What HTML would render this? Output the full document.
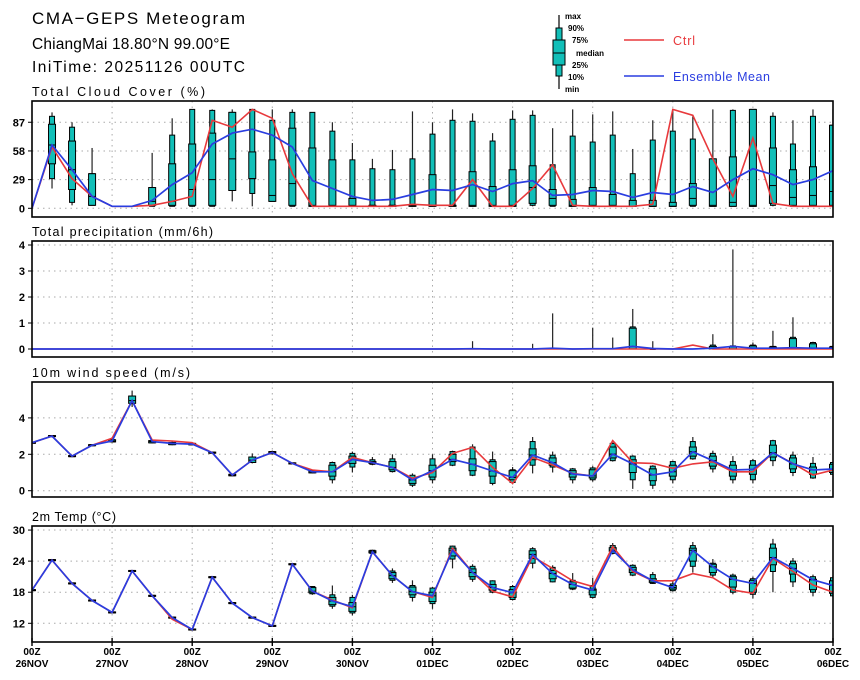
<!DOCTYPE html>
<html><head><meta charset="utf-8">
<style>
html,body{margin:0;padding:0;background:#fff;}
svg{display:block;font-family:"Liberation Sans",sans-serif;}
.ttl{font-size:17px;fill:#000;}
.ptl{font-size:12.5px;fill:#000;}
.tk{font-size:11px;font-weight:bold;fill:#000;}
.xl{font-size:10px;font-weight:bold;fill:#000;}
.lg{font-size:8px;font-weight:bold;fill:#000;}
</style></head><body>
<svg id="chart" width="860" height="680" viewBox="0 0 860 680">
<text class="ttl" x="32" y="24" textLength="213" lengthAdjust="spacing">CMA−GEPS Meteogram</text>
<text class="ttl" x="32" y="49" style="font-size:15.5px" textLength="198" lengthAdjust="spacing">ChiangMai 18.80°N 99.00°E</text>
<text class="ttl" x="32" y="72" style="font-size:15.5px" textLength="213" lengthAdjust="spacing">IniTime: 20251126 00UTC</text>
<g>
 <line x1="559" y1="15" x2="559" y2="89" stroke="#000" stroke-width="1.2"/>
 <rect x="556" y="28" width="6" height="48" fill="#12bfb8" stroke="#000" stroke-width="1"/>
 <rect x="553" y="40" width="12" height="25" fill="#12bfb8" stroke="#000" stroke-width="1"/>
 <line x1="553" y1="53" x2="565" y2="53" stroke="#000" stroke-width="1"/>
 <text class="lg" x="565" y="19">max</text>
 <text class="lg" x="568" y="31">90%</text>
 <text class="lg" x="572" y="43">75%</text>
 <text class="lg" x="576" y="56">median</text>
 <text class="lg" x="572" y="68">25%</text>
 <text class="lg" x="568" y="80">10%</text>
 <text class="lg" x="565" y="92">min</text>
 <line x1="624" y1="40" x2="664" y2="40" stroke="#e8393c" stroke-width="1.5"/>
 <text x="673" y="45" style="font-size:12.5px;fill:#e8393c" textLength="22" lengthAdjust="spacing">Ctrl</text>
 <line x1="624" y1="76" x2="664" y2="76" stroke="#2a3de0" stroke-width="1.5"/>
 <text x="673" y="81" style="font-size:12.5px;fill:#2a3de0" textLength="97" lengthAdjust="spacing">Ensemble Mean</text>
</g>
<g id="panels"></g>
</svg>
<script>
// ---- Time axis ----
const days = ["26NOV","27NOV","28NOV","29NOV","30NOV","01DEC","02DEC","03DEC","04DEC","05DEC","06DEC"];
// ---- Cloud cover (%) ----
const cloudCtrl = [0,62,30,12,2,2,3,7,12,89,82,100,91,35,2,2,2,2,2,4,3,3,29,2,2,20,44,3,2,2,2,4,100,94,50,12,71,5,2,2,2];
const cloudMean = [0,64,39,12,2,2,8,24,36,65,76,80,74,62,28,20,12,8,9,14,19,18,24,17,25,28,13,14,18,17,11,16,14,22,16,29,40,34,24,29,38];
const cloudMax = [0,97,87,61,2,2,56,91,100,100,100,100,100,100,97,87,66,50,59,98,87,100,96,76,99,99,81,100,95,98,60,89,100,93,100,100,100,97,89,100,100];
const cloudP90 = [0,93,82,35,2,2,21,74,100,99,97,100,89,97,97,78,49,40,39,50,75,89,88,68,90,94,44,73,67,74,35,69,78,70,50,99,100,93,65,93,84];
const cloudP75 = [0,85,68,35,2,2,21,45,65,76,97,57,49,81,61,49,10,3,3,3,34,3,37,22,39,43,19,9,21,14,8,8,6,25,50,52,100,61,39,42,84];
const cloudMed = [0,64,39,12,2,2,7,7,19,29,50,30,13,25,3,3,3,3,3,3,3,3,3,3,3,21,10,3,3,3,2,2,2,10,3,6,3,23,11,13,17];
const cloudP25 = [0,45,19,3,2,2,3,3,3,3,18,30,7,3,2,2,2,2,2,2,2,2,2,2,2,5,3,2,2,2,2,2,2,3,2,2,2,5,3,3,3];
const cloudP10 = [0,30,6,3,2,2,2,2,2,2,18,15,7,2,2,2,2,2,2,2,2,2,2,2,2,3,2,2,2,2,2,2,2,2,2,2,2,3,2,2,2];
const cloudMin = [0,20,3,3,2,2,2,2,2,2,7,2,7,2,2,2,2,2,2,2,2,2,2,2,2,2,2,2,2,2,2,2,2,2,2,2,2,2,2,2,2];
const cloudTicks = [0,29,58,87];
// ---- Precipitation (mm/6h) ----
const precCtrl = [0,0,0,0,0,0,0,0,0,0,0,0,0,0,0,0,0,0,0,0,0,0,0,0,0,0,0,0,0,0,0,0,0,0.15,0,0,0,0,0,0,0];
const precMean = [0,0,0,0,0,0,0,0,0,0,0,0,0,0,0,0,0,0,0,0,0,0,0.01,0,0,0,0.03,0,0.01,0.01,0.1,0.02,0,0,0.03,0.1,0.03,0.03,0.05,0.03,0.03];
const precMax = [0,0,0,0,0,0,0,0,0,0,0,0,0,0,0,0,0,0,0,0,0,0,0.3,0,0,0.2,1.37,0,0.82,0.44,1.54,0.3,0,0,0.57,3.83,0.25,0.7,1.22,0.28,0.15];
const precP90 = [0,0,0,0,0,0,0,0,0,0,0,0,0,0,0,0,0,0,0,0,0,0,0,0,0,0,0,0,0,0,0.85,0.02,0,0,0.15,0.12,0.15,0.1,0.45,0.25,0.1];
const precP75 = [0,0,0,0,0,0,0,0,0,0,0,0,0,0,0,0,0,0,0,0,0,0,0,0,0,0,0,0,0,0,0.8,0,0,0,0.1,0.08,0.12,0.08,0.4,0.2,0.08];
const precTicks = [0,1,2,3,4];
// ---- Wind speed (m/s) ----
const windCtrl = [2.64,3.0,1.9,2.5,2.88,4.95,2.78,2.73,2.64,2.09,0.86,1.68,2.1,1.5,1.14,1.04,1.83,1.54,1.28,0.68,1.0,2.05,2.38,1.28,0.4,1.83,1.41,0.95,0.81,2.75,1.54,1.5,1.23,1.47,1.59,1.04,1.04,2.09,1.5,0.86,1.14];
const windMean = [2.64,3.0,1.9,2.5,2.73,4.95,2.7,2.6,2.56,2.09,0.86,1.68,2.1,1.5,1.04,1.04,1.72,1.54,1.28,0.59,1.1,1.72,1.45,1.08,0.73,1.96,1.54,0.92,0.81,2.01,1.47,0.86,1.04,2.14,1.65,1.14,1.17,2.09,1.47,1.14,1.19];
const windMin = [2.6,2.95,1.85,2.45,2.65,4.6,2.6,2.5,2.5,2.05,0.8,1.5,2.0,1.45,0.95,0.4,1.0,1.4,1.0,0.2,0.4,1.35,0.8,0.3,0.35,0.95,1.0,0.4,0.5,1.6,0.1,0.1,0.4,1.7,1.0,0.4,0.4,1.35,0.8,0.65,0.85];
const windP10 = [2.62,2.97,1.87,2.47,2.68,4.8,2.63,2.53,2.52,2.06,0.82,1.55,2.03,1.47,0.98,0.6,1.3,1.45,1.05,0.3,0.6,1.4,0.85,0.4,0.45,1.4,1.3,0.6,0.6,1.65,0.6,0.3,0.6,1.75,1.2,0.6,0.6,1.65,1.0,0.7,0.9];
const windP25 = [2.62,2.97,1.87,2.47,2.68,4.8,2.63,2.53,2.52,2.06,0.82,1.55,2.03,1.47,0.98,0.8,1.5,1.5,1.15,0.4,0.75,1.6,1.1,0.8,0.6,1.7,1.4,0.75,0.7,1.8,1.0,0.55,0.8,1.9,1.35,0.8,0.9,1.85,1.2,0.9,1.0];
const windP75 = [2.66,3.03,1.93,2.53,2.8,5.2,2.75,2.65,2.6,2.12,0.9,1.85,2.15,1.53,1.1,1.4,1.9,1.6,1.6,0.7,1.4,2.0,1.75,1.6,1.1,2.3,1.8,1.1,1.15,2.4,1.7,1.2,1.4,2.4,1.9,1.4,1.4,2.5,1.8,1.3,1.45];
const windP90 = [2.66,3.03,1.93,2.53,2.8,5.2,2.75,2.65,2.6,2.12,0.9,1.85,2.15,1.53,1.1,1.55,2.05,1.7,1.75,0.85,1.75,2.15,2.4,1.7,1.15,2.7,1.95,1.2,1.25,2.6,1.9,1.35,1.6,2.7,2.05,1.6,1.65,2.75,1.95,1.5,1.55];
const windMax = [2.7,3.05,1.95,2.55,2.85,5.5,2.8,2.7,2.65,2.15,0.95,2.05,2.2,1.55,1.15,1.6,2.15,1.85,2.0,0.95,2.0,2.2,2.55,2.15,1.3,2.95,2.15,1.25,1.35,2.65,1.95,1.4,1.65,2.95,2.2,1.9,1.75,2.8,2.15,1.85,1.6];
const windTicks = [0,2,4];
// ---- 2m Temperature (°C) ----
const tempCtrl = [18.4,24.2,19.7,16.4,14.1,22.1,17.3,12.8,10.8,20.9,15.9,13.1,11.5,23.4,18.2,16.5,15.0,25.8,21.2,18.1,17.0,26.5,21.8,18.2,17.1,24.9,22.6,20.2,19.1,26.8,22.0,20.2,20.2,21.6,20.8,18.4,17.8,24.5,22.0,19.4,18.0];
const tempMean = [18.4,24.2,19.7,16.4,14.1,22.1,17.3,13.1,10.8,20.9,15.9,13.1,11.5,23.4,18.2,16.3,15.2,25.8,21.2,18.1,17.3,26.1,21.8,18.9,17.9,25.3,21.6,19.5,18.4,26.1,22.3,20.2,18.9,26.1,22.9,20.5,19.7,24.7,22.6,20.4,19.3];
const tempMin = [18.2,24.0,19.5,16.2,13.9,21.9,17.1,12.9,10.6,20.7,15.7,12.9,11.3,23.2,17.5,14.8,13.5,25.4,19.8,16.2,14.8,22.6,20.0,17.8,16.4,22.6,19.9,18.4,16.8,25.3,21.1,19.6,18.1,21.8,20.9,17.6,16.8,18.0,19.0,17.2,17.0];
const tempP10 = [18.3,24.1,19.6,16.3,14.0,22.0,17.2,13.0,10.7,20.8,15.8,13.0,11.4,23.3,17.7,15.3,14.0,25.5,20.3,17.0,15.8,24.4,20.5,18.0,16.6,23.6,20.0,18.6,17.0,25.5,21.3,19.7,18.3,23.0,21.3,18.0,17.6,22.0,20.0,18.0,17.3];
const tempP25 = [18.3,24.1,19.6,16.3,14.0,22.0,17.2,13.0,10.7,20.8,15.8,13.0,11.4,23.3,17.9,15.6,14.3,25.6,20.6,17.5,16.2,25.0,21.0,18.4,17.0,24.5,20.6,18.8,17.5,25.9,21.8,19.9,18.6,24.0,21.8,19.0,18.0,23.3,21.5,18.5,17.8];
const tempP75 = [18.5,24.3,19.8,16.5,14.2,22.2,17.4,13.2,10.9,21.0,16.0,13.2,11.6,23.5,18.9,17.0,16.0,26.0,21.8,19.0,18.0,26.5,22.5,19.5,18.5,26.0,22.2,20.0,18.6,26.6,22.8,20.6,19.3,26.5,23.4,21.0,20.3,26.5,23.5,20.5,20.2];
const tempP90 = [18.5,24.3,19.8,16.5,14.2,22.2,17.4,13.2,10.9,21.0,16.0,13.2,11.6,23.5,19.1,17.5,17.0,26.1,22.1,19.3,18.8,26.9,23.0,20.2,19.1,26.4,22.8,20.3,19.3,27.0,23.2,21.4,19.6,27.0,23.6,21.3,20.6,27.3,24.0,21.0,20.8];
const tempMax = [18.6,24.4,19.9,16.6,14.3,22.3,17.5,13.3,11.0,21.1,16.1,13.3,11.7,23.6,19.2,19.3,17.5,26.2,22.6,20.3,19.0,27.0,23.4,20.3,19.4,26.7,23.2,21.7,20.8,27.5,23.4,21.9,20.1,27.7,24.4,21.6,21.0,28.3,24.6,21.4,21.2];
const tempTicks = [12,18,24,30];

const NS = "http://www.w3.org/2000/svg";
const X0 = 32, X1 = 833, NSTEP = 40;
function xOf(k){ return X0 + (X1 - X0) * k / NSTEP; }
function mk(tag, attrs, parent){
  const e = document.createElementNS(NS, tag);
  for (const a in attrs) e.setAttribute(a, attrs[a]);
  parent.appendChild(e);
  return e;
}
const root = document.getElementById("panels");

function drawPanel(cfg){
  const g = mk("g", {}, root);
  
  
  const yOf = v => cfg.y0 - (v - cfg.vmin) * cfg.scale;
  const t = mk("text", {class:"ptl", x:32, y:cfg.top - 5, textLength:cfg.titleLen, lengthAdjust:"spacing"}, g);
  t.textContent = cfg.title;
  
  
  const cid = "clip-" + cfg.name;
  const cp = mk("clipPath", {id:cid}, g);
  mk("rect", {x:X0, y:cfg.top, width:X1 - X0, height:cfg.bot - cfg.top}, cp);
  for (let d = 1; d < days.length - 1; d++){
    const l = mk("line", {x1:xOf(d*4), x2:xOf(d*4), y1:cfg.top, y2:cfg.bot, stroke:"#aaa", "stroke-width":1, "stroke-dasharray":"1.5,4"}, g);
    
    
  }
  cfg.ticks.forEach(v => {
    const y = yOf(v);
    const l = mk("line", {x1:X0, x2:X1, y1:y, y2:y, stroke:"#aaa", "stroke-width":1, "stroke-dasharray":"1.5,4"}, g);
    
    
    mk("line", {x1:X0 - 4, x2:X0, y1:y, y2:y, stroke:"#000", "stroke-width":1}, g);
    const tx = mk("text", {class:"tk", x:X0 - 7, y:y + 4, "text-anchor":"end"}, g);
    tx.textContent = v;
    
    
  });
  const mg = mk("g", {"clip-path":"url(#" + cid + ")"}, g);
  for (let k = 0; k <= NSTEP; k++){
    if (cfg.max[k] - cfg.min[k] < cfg.minRange) continue;
    const x = xOf(k);
    const bg = mk("g", {}, mg);
    
    
    mk("line", {x1:x, x2:x, y1:yOf(cfg.max[k]), y2:yOf(cfg.min[k]), stroke:"#222", "stroke-width":1.2}, bg);
    const p10 = cfg.p10 ? cfg.p10[k] : cfg.min[k];
    const p25 = cfg.p25 ? cfg.p25[k] : cfg.min[k];
    const y90 = yOf(cfg.p90[k]), y10 = yOf(p10);
    if (y10 - y90 >= 0.3) mk("rect", {x:x - 2.5, y:y90, width:5, height:Math.max(y10 - y90, 1), fill:"#12bfb8", stroke:"#000", "stroke-width":1}, bg);
    const y75 = yOf(cfg.p75[k]), y25 = yOf(p25);
    if (y25 - y75 >= 0.3) mk("rect", {x:x - 3.5, y:y75, width:7, height:Math.max(y25 - y75, 1), fill:"#12bfb8", stroke:"#000", "stroke-width":1}, bg);
    if (cfg.med){ const ym = yOf(cfg.med[k]); mk("line", {x1:x - 3.5, x2:x + 3.5, y1:ym, y2:ym, stroke:"#000", "stroke-width":1}, bg); }
  }
  const ptsC = cfg.ctrl.map((v, k) => xOf(k).toFixed(1) + "," + yOf(v).toFixed(1)).join(" ");
  const pc = mk("polyline", {points:ptsC, fill:"none", stroke:"#e8393c", "stroke-width":1.6}, mg);
  
  
  const ptsM = cfg.mean.map((v, k) => xOf(k).toFixed(1) + "," + yOf(v).toFixed(1)).join(" ");
  const pm = mk("polyline", {points:ptsM, fill:"none", stroke:"#2a3de0", "stroke-width":1.7}, mg);
  
  
  const fr = mk("rect", {x:X0, y:cfg.top, width:X1 - X0, height:cfg.bot - cfg.top, fill:"none", stroke:"#000", "stroke-width":1.6}, g);
  
  
  return g;
}

drawPanel({name:"cloud-cover", title:"Total Cloud Cover (%)", titleLen:173, top:101, bot:217, y0:208.3, vmin:0, scale:0.989, ticks:cloudTicks,
  ctrl:cloudCtrl, mean:cloudMean, min:cloudMin, p10:cloudP10, p25:cloudP25, med:cloudMed, p75:cloudP75, p90:cloudP90, max:cloudMax, minRange:1});
drawPanel({name:"precipitation", title:"Total precipitation (mm/6h)", titleLen:181, top:241, bot:357, y0:349, vmin:0, scale:26, ticks:precTicks,
  ctrl:precCtrl, mean:precMean, min:precMean.map(()=>0), p10:null, p25:null, med:null, p75:precP75, p90:precP90, max:precMax, minRange:0.05});
drawPanel({name:"wind-speed", title:"10m wind speed (m/s)", titleLen:158, top:382, bot:497, y0:490.7, vmin:0, scale:18.2, ticks:windTicks,
  ctrl:windCtrl, mean:windMean, min:windMin, p10:windP10, p25:windP25, med:windMean, p75:windP75, p90:windP90, max:windMax, minRange:0});
drawPanel({name:"temperature", title:"2m Temp (°C)", titleLen:84, top:526, bot:642, y0:623.3, vmin:12, scale:5.18, ticks:tempTicks,
  ctrl:tempCtrl, mean:tempMean, min:tempMin, p10:tempP10, p25:tempP25, med:tempMean, p75:tempP75, p90:tempP90, max:tempMax, minRange:0});

const xg = mk("g", {}, root);


days.forEach((d, i) => {
  const x = xOf(i*4);
  mk("line", {x1:x, x2:x, y1:638, y2:646, stroke:"#000", "stroke-width":1.4}, xg);
  const t1 = mk("text", {class:"xl", x:x, y:655, "text-anchor":"middle"}, xg);
  t1.textContent = "00Z";
  
  
  const t2 = mk("text", {class:"xl", x:x, y:667, "text-anchor":"middle"}, xg);
  t2.textContent = d;
  
  
});
</script>
</body></html>
